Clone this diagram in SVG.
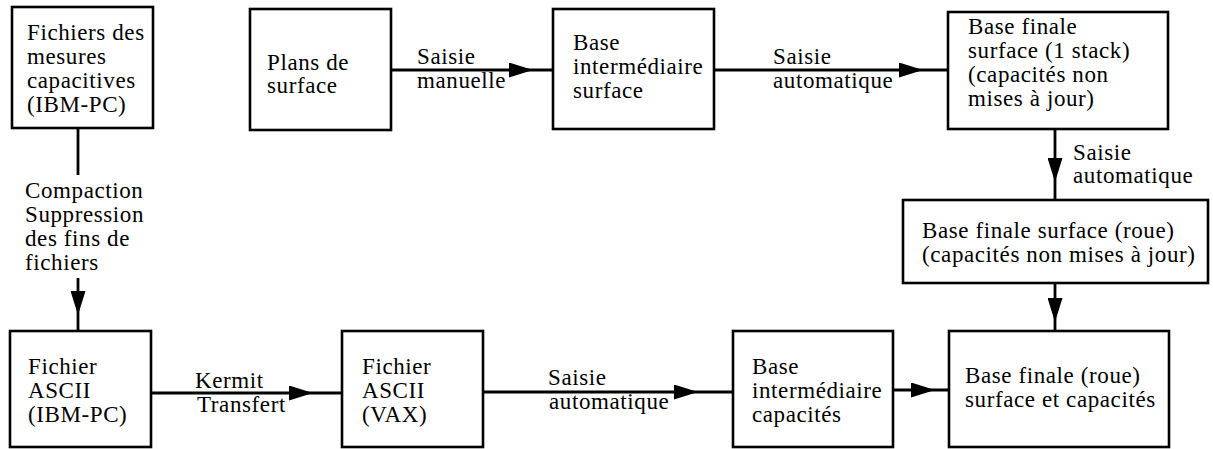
<svg xmlns="http://www.w3.org/2000/svg" width="1213" height="449" viewBox="0 0 1213 449">
<style>
.box{fill:#fff;stroke:#000;stroke-width:2.6}
.t{font-family:"Liberation Serif","Times New Roman",serif;font-size:23px;letter-spacing:0.6px;fill:#000}
.c{fill:none;stroke:#000;stroke-width:2.8}
</style>
<defs>
<marker id="ah" markerUnits="userSpaceOnUse" viewBox="0 0 24 15" refX="24" refY="7.5" markerWidth="24" markerHeight="15" orient="auto">
<path d="M0,0 L24,7.5 L0,15 z" fill="#000"/>
</marker>
</defs>
<rect width="1213" height="449" fill="#fff"/>
<g id="connectors">
<path class="c" d="M391,70 L533,70 L553,70" marker-mid="url(#ah)"/>
<path class="c" d="M714,70 L923,70 L948,70" marker-mid="url(#ah)"/>
<path class="c" d="M1055,129 L1055,182 L1055,200" marker-mid="url(#ah)"/>
<path class="c" d="M1055,283 L1055,322 L1055,331" marker-mid="url(#ah)"/>
<path class="c" d="M78,128 L78,175"/>
<path class="c" d="M78,278 L78,315 L78,331" marker-mid="url(#ah)"/>
<path class="c" d="M151,393 L313,393 L342,393" marker-mid="url(#ah)"/>
<path class="c" d="M483,392 L698,392 L733,392" marker-mid="url(#ah)"/>
<path class="c" d="M893,390 L935,390 L949,390" marker-mid="url(#ah)"/>
<text class="t" x="417" y="64">Saisie</text>
<text class="t" x="417" y="88">manuelle</text>
<text class="t" x="773" y="64">Saisie</text>
<text class="t" x="773" y="88">automatique</text>
<text class="t" x="1073" y="160">Saisie</text>
<text class="t" x="1073" y="183">automatique</text>
<text class="t" x="25" y="198">Compaction</text>
<text class="t" x="25" y="222">Suppression</text>
<text class="t" x="25" y="246">des fins de</text>
<text class="t" x="25" y="270">fichiers</text>
<text class="t" x="195" y="388">Kermit</text>
<text class="t" x="197" y="412">Transfert</text>
<text class="t" x="548" y="385">Saisie</text>
<text class="t" x="549" y="409">automatique</text>
</g>
<g id="n-fichiers-mesures">
<rect class="box" x="12" y="7" width="141" height="121"/>
<text class="t" x="27" y="40">Fichiers des</text>
<text class="t" x="27" y="64">mesures</text>
<text class="t" x="27" y="88">capacitives</text>
<text class="t" x="27" y="112">(IBM-PC)</text>
</g>
<g id="n-plans">
<rect class="box" x="250" y="9" width="141" height="121"/>
<text class="t" x="267" y="70">Plans de</text>
<text class="t" x="267" y="93">surface</text>
</g>
<g id="n-base-int-surface">
<rect class="box" x="553" y="9" width="161" height="120"/>
<text class="t" x="573" y="50">Base</text>
<text class="t" x="573" y="74">intermédiaire</text>
<text class="t" x="573" y="98">surface</text>
</g>
<g id="n-base-finale-stack">
<rect class="box" x="948" y="12" width="220" height="117"/>
<text class="t" x="968" y="34">Base finale</text>
<text class="t" x="968" y="58">surface (1 stack)</text>
<text class="t" x="968" y="82">(capacités non</text>
<text class="t" x="968" y="106">mises à jour)</text>
</g>
<g id="n-base-finale-roue">
<rect class="box" x="903" y="200" width="305" height="83"/>
<text class="t" x="922" y="238">Base finale surface (roue)</text>
<text class="t" x="922" y="262">(capacités non mises à jour)</text>
</g>
<g id="n-base-finale-complete">
<rect class="box" x="949" y="331" width="220" height="116"/>
<text class="t" x="965" y="383">Base finale (roue)</text>
<text class="t" x="965" y="407">surface et capacités</text>
</g>
<g id="n-ascii-ibm">
<rect class="box" x="10" y="331" width="141" height="116"/>
<text class="t" x="28" y="374">Fichier</text>
<text class="t" x="28" y="398">ASCII</text>
<text class="t" x="28" y="422">(IBM-PC)</text>
</g>
<g id="n-ascii-vax">
<rect class="box" x="342" y="331" width="141" height="116"/>
<text class="t" x="362" y="374">Fichier</text>
<text class="t" x="362" y="398">ASCII</text>
<text class="t" x="362" y="422">(VAX)</text>
</g>
<g id="n-base-int-capa">
<rect class="box" x="733" y="331" width="160" height="116"/>
<text class="t" x="752" y="374">Base</text>
<text class="t" x="752" y="398">intermédiaire</text>
<text class="t" x="752" y="422">capacités</text>
</g>
</svg>
